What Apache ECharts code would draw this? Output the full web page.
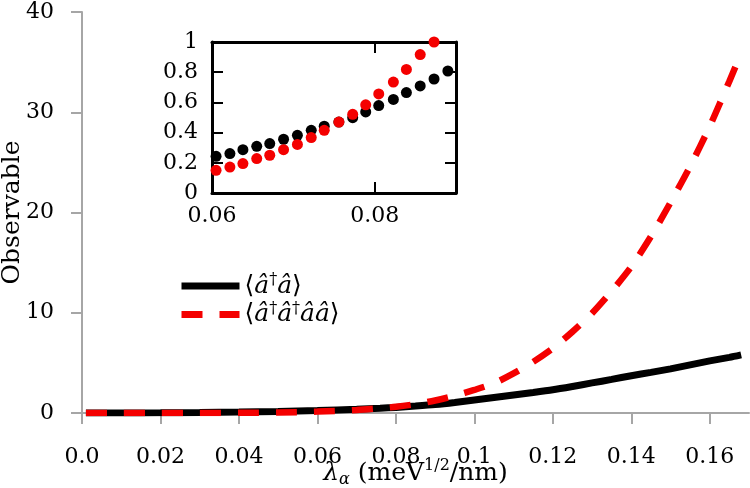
<!DOCTYPE html>
<html><head><meta charset="utf-8">
<script src="https://cdn.jsdelivr.net/npm/echarts@6/dist/echarts.min.js"></script>
<style>html,body{margin:0;padding:0;background:#fff}#c{width:750px;height:488px}</style>
</head><body><div id="c"></div>
<script>
// ---- data ----
const lambdaMain = [0.001,0.01,0.02,0.03,0.04,0.05,0.06,0.07,0.076,0.08,0.085,0.09,0.095,0.10,0.105,0.11,0.115,0.12,0.125,0.13,0.135,0.14,0.145,0.15,0.155,0.16,0.165,0.168];
const nMain  = [0,0.005,0.02,0.05,0.09,0.15,0.24,0.37,0.47,0.56,0.69,0.84,1.05,1.30,1.55,1.80,2.05,2.32,2.65,3.00,3.35,3.72,4.05,4.40,4.80,5.20,5.55,5.80];
const g2Main = [0,0,0.001,0.005,0.015,0.05,0.14,0.31,0.48,0.62,0.88,1.25,1.72,2.30,2.96,3.95,5.10,6.45,8.10,9.95,12.15,14.6,17.6,21.0,24.6,28.6,33.1,35.9];

const lambdaInset = [0.0605,0.0622,0.0638,0.0655,0.0671,0.0688,0.0705,0.0722,0.0738,0.0756,0.0773,0.0789,0.0805,0.0823,0.0839,0.0856,0.0873,0.0890];
const nInset  = [0.243,0.261,0.287,0.309,0.327,0.356,0.382,0.415,0.442,0.470,0.499,0.537,0.579,0.620,0.665,0.709,0.755,0.808];
const g2Inset = [0.150,0.172,0.195,0.228,0.250,0.287,0.322,0.367,0.415,0.470,0.521,0.584,0.656,0.735,0.818,0.917,1.0];

const xTicksMain = [0,0.02,0.04,0.06,0.08,0.10,0.12,0.14,0.16];
const yTicksMain = [0,10,20,30,40];
const xTicksInset = [0.06,0.08];

const seriesNames = ['n', 'g2'];
const legendLabels = {
  n:  '{b|⟨}{a|â}{d|†}{a|â}{b|⟩}',
  g2: '{b|⟨}{a|â}{d|†}{a|â}{d|†}{a|â}{a|â}{b|⟩}'
};
const xName = '{l|λ}{s|α}{t| (meV}{p|1/2}{t|/nm)}';
const yName = 'Observable';

// ---- chart ----
const F = 'DejaVu Serif';
const GRAY = '#a6a6a6';
const RED = '#f40000';
const zip = (xs, ys) => ys.map((y, i) => [xs[i], y]);
const fmtMainX = v => v === 0 ? '0.0' : String(+v.toFixed(2));

const chart = echarts.init(document.getElementById('c'), null, {renderer: 'canvas'});
chart.setOption({
  animation: false,
  backgroundColor: '#fff',
  textStyle: {fontFamily: F, color: '#000'},
  grid: [
    {left: 82, right: 1, top: 12, bottom: 75, outerBoundsMode: 'none', containLabel: false},
    {left: 212, top: 42, width: 244, height: 151, outerBoundsMode: 'none', containLabel: false}
  ],
  xAxis: [
    {
      gridIndex: 0, type: 'value', min: 0, max: 0.17, interval: 0.02,
      axisLine: {show: true, lineStyle: {color: GRAY, width: 2}},
      axisTick: {show: true, length: 11, customValues: xTicksMain, lineStyle: {color: GRAY, width: 2}},
      axisLabel: {customValues: xTicksMain, formatter: fmtMainX, color: '#000', fontFamily: F, fontSize: 22, margin: 33},
      splitLine: {show: false},
      name: xName, nameLocation: 'middle', nameGap: 45, nameMoveOverlap: false,
      nameTextStyle: {
        color: '#000',
        rich: {
          l: {fontFamily: F, fontStyle: 'italic', fontSize: 25, lineHeight: 30, color: '#000'},
          s: {fontFamily: F, fontStyle: 'italic', fontSize: 16, lineHeight: 16, verticalAlign: 'bottom', color: '#000'},
          t: {fontFamily: F, fontSize: 25, lineHeight: 30, color: '#000'},
          p: {fontFamily: F, fontSize: 16, lineHeight: 16, verticalAlign: 'top', color: '#000'}
        }
      }
    },
    {
      gridIndex: 1, type: 'value', min: 0.06, max: 0.09, interval: 0.02, position: 'bottom',
      axisLine: {show: true, onZero: false, lineStyle: {color: '#000', width: 3}},
      axisTick: {show: true, inside: true, length: 11, customValues: xTicksInset, lineStyle: {color: '#000', width: 2}},
      axisLabel: {customValues: xTicksInset, formatter: v => v.toFixed(2), color: '#000', fontFamily: F, fontSize: 22, margin: 12},
      splitLine: {show: false}
    },
    {
      gridIndex: 1, type: 'value', min: 0.06, max: 0.09, interval: 0.02, position: 'top',
      axisLine: {show: true, onZero: false, lineStyle: {color: '#000', width: 3}},
      axisTick: {show: true, inside: true, length: 11, customValues: xTicksInset, lineStyle: {color: '#000', width: 2}},
      axisLabel: {show: false},
      splitLine: {show: false}
    }
  ],
  yAxis: [
    {
      gridIndex: 0, type: 'value', min: 0, max: 40, interval: 10,
      axisLine: {show: true, lineStyle: {color: GRAY, width: 2}},
      axisTick: {show: true, length: 11, customValues: yTicksMain, lineStyle: {color: GRAY, width: 2}},
      axisLabel: {customValues: yTicksMain, color: '#000', fontFamily: F, fontSize: 22, margin: 28},
      splitLine: {show: false},
      name: yName, nameLocation: 'middle', nameGap: 57, nameRotate: 90, nameMoveOverlap: false,
      nameTextStyle: {color: '#000', fontFamily: F, fontSize: 25}
    },
    {
      gridIndex: 1, type: 'value', min: 0, max: 1, interval: 0.2, position: 'left',
      axisLine: {show: true, onZero: false, lineStyle: {color: '#000', width: 3}},
      axisTick: {show: true, inside: true, length: 11, lineStyle: {color: '#000', width: 2}},
      axisLabel: {formatter: v => String(+v.toFixed(1)), color: '#000', fontFamily: F, fontSize: 22, margin: 14},
      splitLine: {show: false}
    },
    {
      gridIndex: 1, type: 'value', min: 0, max: 1, interval: 0.2, position: 'right',
      axisLine: {show: true, onZero: false, lineStyle: {color: '#000', width: 3}},
      axisTick: {show: true, inside: true, length: 11, lineStyle: {color: '#000', width: 2}},
      axisLabel: {show: false},
      splitLine: {show: false}
    }
  ],
  legend: {
    orient: 'vertical', left: 178, top: 272, padding: 0, itemGap: 2,
    itemWidth: 58, itemHeight: 28,
    data: seriesNames,
    lineStyle: {width: 7},
    itemStyle: {opacity: 0, color: 'rgba(0,0,0,0)', borderWidth: 0},
    formatter: name => legendLabels[name],
    textStyle: {
      color: '#000',
      rich: {
        b: {fontFamily: F, fontSize: 25, lineHeight: 28, color: '#000'},
        a: {fontFamily: F, fontStyle: 'italic', fontSize: 25, lineHeight: 28, color: '#000'},
        d: {fontFamily: F, fontSize: 16, lineHeight: 16, verticalAlign: 'top', color: '#000'}
      }
    }
  },
  series: [
    {
      name: 'n', type: 'line', xAxisIndex: 0, yAxisIndex: 0,
      data: zip(lambdaMain, nMain), symbol: 'none', smooth: 0.25,
      lineStyle: {color: '#000', width: 7, cap: 'butt'}, itemStyle: {color: '#000'}
    },
    {
      name: 'g2', type: 'line', xAxisIndex: 0, yAxisIndex: 0,
      data: zip(lambdaMain, g2Main), symbol: 'none', smooth: 0.25,
      lineStyle: {color: RED, width: 6.5, type: [21, 17], cap: 'butt'}, itemStyle: {color: RED}
    },
    {
      name: 'nInset', type: 'scatter', xAxisIndex: 1, yAxisIndex: 1,
      data: zip(lambdaInset, nInset), symbol: 'circle', symbolSize: 11,
      itemStyle: {color: '#000', opacity: 1}
    },
    {
      name: 'g2Inset', type: 'scatter', xAxisIndex: 1, yAxisIndex: 1,
      data: zip(lambdaInset, g2Inset), symbol: 'circle', symbolSize: 11,
      itemStyle: {color: RED, opacity: 1}
    }
  ]
});
</script>
</body></html>
